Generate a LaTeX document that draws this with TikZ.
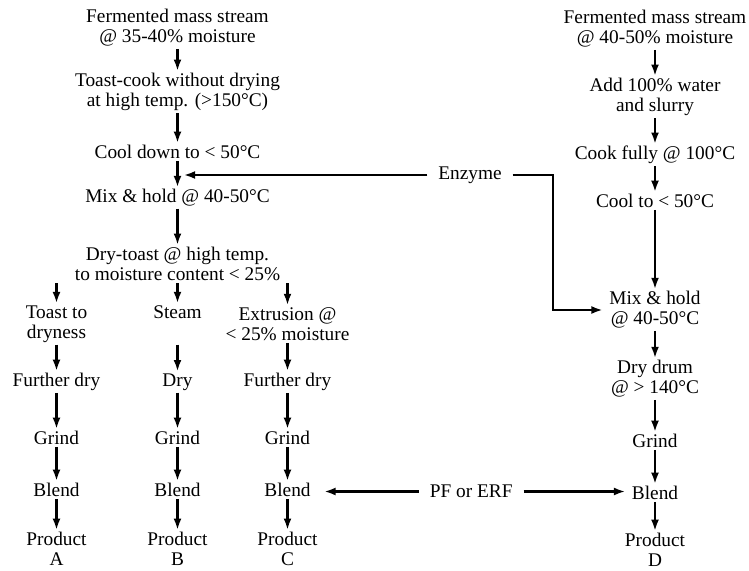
\documentclass[tikz,border=0pt]{standalone}
\usepackage{fontspec}
\setmainfont{Liberation Serif}
\usetikzlibrary{arrows.meta, positioning, calc}

\begin{document}
\begin{tikzpicture}[on grid, font=\fontsize{11}{11.5}\selectfont,
		every node/.style={align=center, inner xsep=3.5pt, inner ysep=1pt},
		feed/.style={inner xsep=6pt},
		arr/.style={line width=1.5pt, -{Latex[length=6.5pt,width=4.5pt]}}]
		\useasboundingbox (0,0) rectangle (14.98,-11.4);

		% left stream
		\node 			(ferm) 		at (3.55,-0.56)				{Fermented mass stream\\@ 35-40\% moisture};
		\node 			(toast) 	[below=1.28cm of ferm]		{Toast-cook without drying\\at high temp. (>150°C)};
		\node 			(cool) 		[below=1.2cm of toast]		{Cool down to < 50°C};
		\node 			(mix) 		[below=0.92cm of cool]		{Mix \& hold @ 40-50°C};
		\node 			(drytoast) 	[below=1.32cm of mix]		{Dry-toast @ high temp.\\to moisture content < 25\%};
		\node 			(steam) 	[below=1.2cm of drytoast]	{Steam\\\vphantom{y}};
		\node 			(dryness) 	[left=2.42cm of steam]		{Toast to\\dryness};
		\node 			(extrude) 	[right=2.2cm of steam]		{Extrusion @\\< 25\% moisture};
		\node 			(furtherA) 	[below=1.16cm of dryness]	{Further dry};
		\node 			(dryB) 		[below=1.16cm of steam]		{Dry};
		\node 			(furtherC) 	[below=1.16cm of extrude]	{Further dry};
		\node 			(grindA) 	[below=1.12cm of furtherA]	{Grind};
		\node 			(grindB) 	[below=1.12cm of dryB]		{Grind};
		\node 			(grindC) 	[below=1.12cm of furtherC]	{Grind};
		\node 			(blendA) 	[below=1.04cm of grindA]	{Blend};
		\node 			(blendB) 	[below=1.04cm of grindB]	{Blend};
		\node 			(blendC) 	[below=1.04cm of grindC]	{Blend};
		\node 			(prodA) 	[below=1.18cm of blendA]	{Product\\A};
		\node 			(prodB) 	[below=1.18cm of blendB]	{Product\\B};
		\node 			(prodC) 	[below=1.18cm of blendC]	{Product\\C};

		% right stream
		\node 			(fermR) 	at (13.1,-0.58)				{Fermented mass stream\\@ 40-50\% moisture};
		\node 			(slurry) 	[below=1.36cm of fermR]		{Add 100\% water\\and slurry};
		\node 			(cook) 		[below=1.16cm of slurry]	{Cook fully @ 100°C};
		\node 			(coolR) 	[below=0.92cm of cook]		{Cool to < 50°C};
		\node 			(mixR) 		[below=2.18cm of coolR]		{Mix \& hold\\@ 40-50°C};
		\node 			(drum) 		[below=1.38cm of mixR]		{Dry drum\\@ > 140°C};
		\node 			(grindD) 	[below=1.24cm of drum]		{Grind};
		\node 			(blendD) 	[below=1.04cm of grindD]	{Blend};
		\node 			(prodD) 	[below=1.14cm of blendD]	{Product\\D};

		% additions
		\node[feed] 	(enzyme) 	at (9.4,-3.5)				{Enzyme};
		\node[feed] 	(pf) 		at ($(blendC)!0.5!(blendD)$) {PF or ERF};

		\path[arr]
			(ferm) 		edge 	(toast)
			(toast) 	edge 	(cool)
			(cool) 		edge 	(mix)
			(mix) 		edge 	(drytoast)
			(dryness |- drytoast.south) edge (dryness)
			(steam |- drytoast.south) 	edge (steam)
			(extrude |- drytoast.south) edge (extrude)
			(dryness) 	edge 	(furtherA)
			(steam) 	edge 	(dryB)
			(extrude) 	edge 	(furtherC)
			(furtherA) 	edge 	(grindA)
			(dryB) 		edge 	(grindB)
			(furtherC) 	edge 	(grindC)
			(grindA) 	edge 	(blendA)
			(grindB) 	edge 	(blendB)
			(grindC) 	edge 	(blendC)
			(blendA) 	edge 	(prodA)
			(blendB) 	edge 	(prodB)
			(blendC) 	edge 	(prodC)
			(fermR) 	edge 	(slurry)
			(slurry) 	edge 	(cook)
			(cook) 		edge 	(coolR)
			(coolR) 	edge 	(mixR)
			(mixR) 		edge 	(drum)
			(drum) 		edge 	(grindD)
			(grindD) 	edge 	(blendD)
			(blendD) 	edge 	(prodD)
			;

		\draw[arr, shorten >=3.5pt] (enzyme.west) -- (enzyme -| cool);
		\draw[arr] (enzyme.east) -| ([xshift=-1cm]mixR.west) -- (mixR.west);
		\draw[arr, shorten >=4pt] (pf.west) -- (pf.west -| blendC.east);
		\draw[arr] (pf.east) -- (pf.east -| blendD.west);
\end{tikzpicture}
\end{document}
